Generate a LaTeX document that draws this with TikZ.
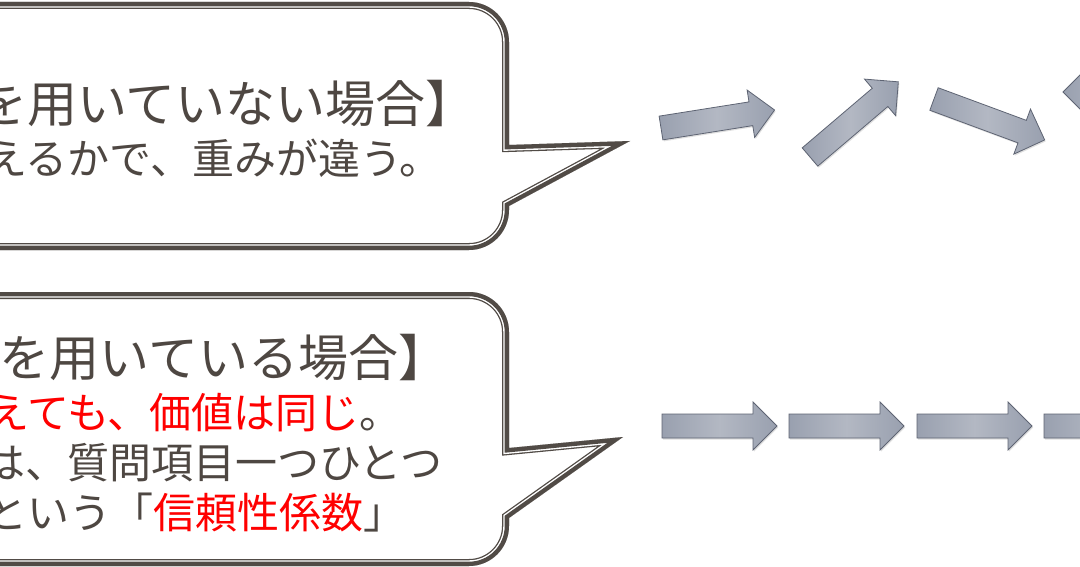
\documentclass[tikz,border=0pt]{standalone}
\usepackage{fontspec}
\setmainfont{Noto Sans CJK JP}
\usetikzlibrary{shadows}
\definecolor{ink}{HTML}{4E4742}
\definecolor{frame}{HTML}{514B46}
\definecolor{redtxt}{HTML}{FF0000}
\definecolor{arrowA}{HTML}{99A0AF}
\definecolor{arrowB}{HTML}{B3B8C3}
\definecolor{arrowEdge}{HTML}{5E6473}
\tikzset{
  bigtxt/.style={inner sep=0pt, anchor=base west, text=ink, font=\fontsize{50}{50}\selectfont},
  smalltxt/.style={inner sep=0pt, anchor=base west, text=ink, font=\fontsize{42}{42}\selectfont},
  blockarrow/.style={draw=arrowEdge, line width=0.8pt, line join=miter,
     left color=arrowA, right color=arrowA, middle color=arrowB,
     drop shadow={opacity=0.25, shadow xshift=1pt, shadow yshift=-1.5pt}},
}
\newcommand{\calloutframe}[1]{%
  \begin{scope}
    \clip #1;
    \fill[white] #1;
    \draw[frame, line width=14pt, line join=miter, miter limit=20] #1;
    \draw[white, line width=11.4pt, line join=miter, miter limit=20] #1;
    \draw[frame, line width=8.6pt, line join=miter, miter limit=20] #1;
  \end{scope}}
\newcommand{\blockarr}[4]{% x, y, angle, length
  \draw[blockarrow, shift={(#1,#2)}, rotate=#3]
    (0,-12) -- (#4-24,-12) -- (#4-24,-24) -- (#4,0) -- (#4-24,24) -- (#4-24,12) -- (0,12) -- cycle;}
\begin{document}
\begin{tikzpicture}[x=1pt, y=-1pt]
\useasboundingbox (0,0) rectangle (1080,567);
\clip (0,0) rectangle (1080,567);
\fill[white] (0,0) rectangle (1080,567);

% top callout
\calloutframe{(-40,2) -- (469,2) arc[start angle=-90, end angle=0, radius=40] -- (509,145) -- (630,141) -- (509,206) -- (509,210) arc[start angle=0, end angle=90, radius=40] -- (-40,250) -- cycle}
\node[bigtxt] (ta) at (-23,123) {を用いていない場合】};
\node[smalltxt] (tb) at (-15,175) {えるかで、重みが違う。};

% bottom callout
\calloutframe{(-40,292) -- (469,292) arc[start angle=-90, end angle=0, radius=40] -- (509,448) -- (623,437) -- (509,518) -- (509,526) arc[start angle=0, end angle=90, radius=40] -- (-40,566) -- cycle}
\node[bigtxt] (ba) at (-0.5,376) {を用いている場合】};
\node[smalltxt] (bb) at (-13,428) {\textcolor{redtxt}{えても、価値は同じ}。};
\node[smalltxt] (bc) at (-17,478) {は、質問項目一つひとつ};
\node[smalltxt] (bd) at (-15,528) {という「\textcolor{redtxt}{信頼性係数}」};

% top row arrows
\blockarr{661}{128}{9}{115}
\blockarr{810}{157}{40.4}{116}
\blockarr{934}{99}{-20.3}{118}
\blockarr{1178}{92}{180}{115}

% bottom row arrows
\blockarr{662}{426}{0}{115}
\blockarr{789}{426}{0}{115}
\blockarr{917}{426}{0}{115}
\blockarr{1044}{426}{0}{115}
\end{tikzpicture}
\end{document}
